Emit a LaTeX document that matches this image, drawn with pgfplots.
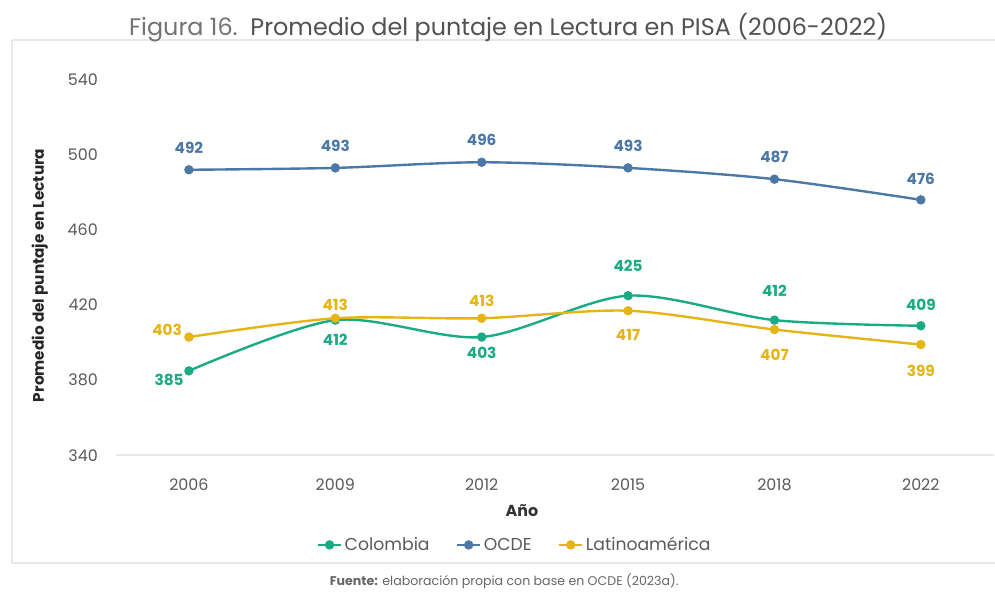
\documentclass[border=0pt]{standalone}
\usepackage{pgfplots}
\pgfplotsset{compat=1.18}
\usepackage{pgfplotstable}
\usepackage{fontspec}
\setmainfont{Poppins}
\definecolor{colg}{HTML}{1AAB84}
\definecolor{colb}{HTML}{4B78A5}
\definecolor{coly}{HTML}{E6B414}
\definecolor{tickg}{HTML}{5A5A5A}
\definecolor{boxg}{HTML}{E8E8E8}

\pgfplotstableread{
x y dx dy
0 385 -20 -9
1 412 0 -20
2 403 0 -16
3 425 0 30
4 412 0 29
5 409 0 21
}\colombia
\pgfplotstableread{
x y dx dy
0 492 0 22
1 493 0 22
2 496 0 23
3 493 0 22
4 487 0 22
5 476 0 21
}\ocde
\pgfplotstableread{
x y dx dy
0 403 -22 7
1 413 0 13
2 413 0 17
3 417 0 -24
4 407 0 -25
5 399 0 -26
}\latam

\begin{document}
\begin{tikzpicture}
\begin{scope}[x=0.75pt,y=-0.75pt]
\useasboundingbox (0,0) rectangle (995,597);
\fill[white] (0,0) rectangle (995,597);
\draw[boxg, line width=1.5pt] (12,40) -- (1010,40) (12,40) -- (12,566) -- (1010,566);
\node[anchor=center, font=\fontsize{18}{20}\selectfont] at (511,28)
  {\textcolor{black!55}{Figura 16.}\ \ \textcolor{black!68}{Promedio del puntaje en Lectura en PISA (2006-2022)}};
\node[anchor=center, font=\fontsize{9.5}{11}\selectfont, text=black!60] at (507,585)
  {\textbf{Fuente:} elaboración propia con base en OCDE (2023a).};
\end{scope}
\begin{axis}[
  at={({116.4*0.75pt},{-458*0.75pt})}, anchor=south west,
  scale only axis, width=662.4pt, height=283.5pt,
  xmin=-0.5, xmax=5.5, ymin=340, ymax=540,
  xtick={0,1,2,3,4,5},
  xticklabels={2006,2009,2012,2015,2018,2022},
  ytick={340,380,420,460,500,540},
  axis x line*=bottom, axis y line*=left,
  x axis line style={draw=boxg, line width=1.5pt, -},
  y axis line style={draw=none},
  major tick length=0pt,
  tick label style={font=\fontsize{12}{14}\selectfont, text=tickg},
  /pgf/number format/assume math mode=true,
  /pgf/number format/1000 sep={},
  yticklabel style={xshift=-10pt},
  xticklabel style={yshift=-14pt},
  xlabel={\textbf{Año}},
  xlabel style={at={(axis description cs:0.4626,-0.1455)}, anchor=center, font=\fontsize{12}{14}\selectfont, text=black!80},
  ylabel={\textbf{Promedio del puntaje en Lectura}},
  ylabel style={at={(axis description cs:-0.0865,0.479)}, anchor=center, rotate=0, font=\fontsize{11.5}{13}\selectfont, text=black!85},
  clip=false,
  legend columns=3,
  legend style={at={(axis description cs:0.4547,-0.238)}, anchor=center, draw=none,
    font=\fontsize{13}{15}\selectfont, text=tickg,
    /tikz/every even column/.append style={column sep=18pt}},
  legend cell align=left,
]
\addplot[colg, line width=1.8pt, smooth, mark=*, mark size=2.6pt] table[x=x,y=y] {\colombia};
\addlegendentry{Colombia}
\addplot[colb, line width=1.8pt, smooth, mark=*, mark size=2.6pt] table[x=x,y=y] {\ocde};
\addlegendentry{OCDE}
\addplot[coly, line width=1.8pt, smooth, mark=*, mark size=2.6pt] table[x=x,y=y] {\latam};
\addlegendentry{Latinoamérica}

\pgfplotsset{lbl/.style={draw=none, mark=none, forget plot,
  visualization depends on={\thisrow{dx} \as \dx},
  visualization depends on={\thisrow{dy} \as \dy},
  nodes near coords,
  nodes near coords style={anchor=center, xshift=\dx*0.75pt, yshift=\dy*0.75pt,
     font=\fontsize{11.5}{13}\selectfont\bfseries, /pgf/number format/assume math mode=true}}}
\addplot[lbl, nodes near coords style={text=colg}] table[x=x,y=y] {\colombia};
\addplot[lbl, nodes near coords style={text=colb}] table[x=x,y=y] {\ocde};
\addplot[lbl, nodes near coords style={text=coly}] table[x=x,y=y] {\latam};
\end{axis}
\end{tikzpicture}
\end{document}
